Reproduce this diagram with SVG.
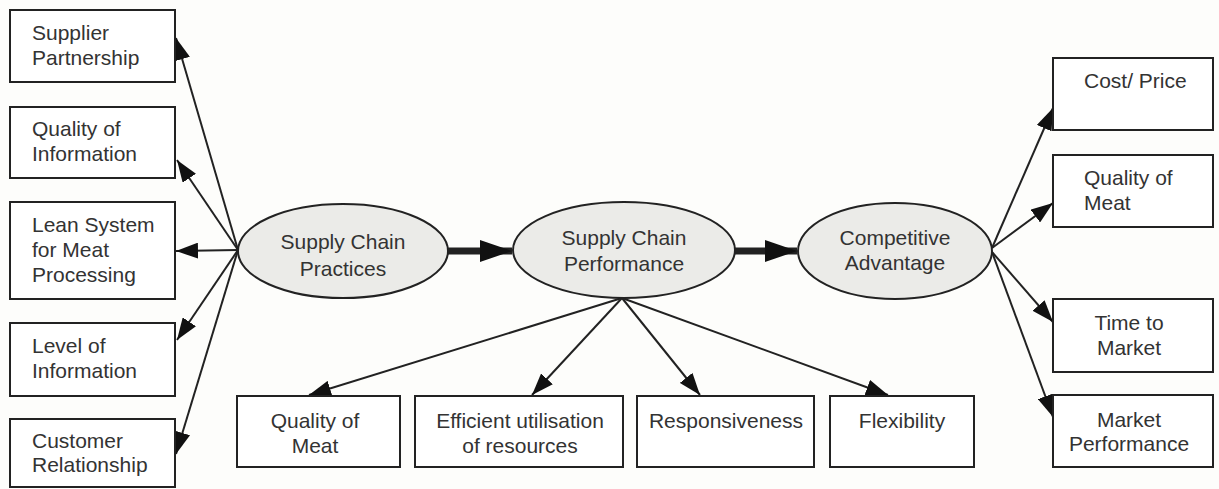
<svg xmlns="http://www.w3.org/2000/svg" width="1219" height="489" viewBox="0 0 1219 489">
<style>
.box{fill:#fff;stroke:#222;stroke-width:2}
.ell{fill:#ebebe8;stroke:#222;stroke-width:2}
text{font-family:"Liberation Sans",Arial,sans-serif;font-size:21px;fill:#333}
.c{text-anchor:middle}
.ln{stroke:#222;stroke-width:2;fill:none;marker-end:url(#ah)}
.thick{stroke:#222;stroke-width:7;fill:none;marker-end:url(#big)}
</style>
<defs>
<marker id="ah" markerUnits="userSpaceOnUse" markerWidth="22" markerHeight="16" refX="22" refY="8" orient="auto">
<path d="M0,0 L22,8 L0,16 z" fill="#111"/>
</marker>
<marker id="big" markerUnits="userSpaceOnUse" markerWidth="32" markerHeight="22" refX="32" refY="11" orient="auto">
<path d="M0,0 L32,11 L0,22 z" fill="#111"/>
</marker>
</defs>
<rect width="1219" height="489" fill="#fdfdfb"/>
<g id="connectors">
<line class="ln" x1="238" y1="250" x2="176" y2="38"/>
<line class="ln" x1="238" y1="250" x2="177" y2="160"/>
<line class="ln" x1="238" y1="250" x2="176" y2="251"/>
<line class="ln" x1="238" y1="250" x2="177" y2="340"/>
<line class="ln" x1="238" y1="250" x2="176" y2="454"/>
<line class="thick" x1="448" y1="251" x2="512" y2="251"/>
<line class="thick" x1="735" y1="251" x2="797" y2="251"/>
<line class="ln" x1="622" y1="298" x2="309" y2="395"/>
<line class="ln" x1="622" y1="298" x2="532" y2="395"/>
<line class="ln" x1="622" y1="298" x2="700" y2="395"/>
<line class="ln" x1="622" y1="298" x2="888" y2="395"/>
<line class="ln" x1="992" y1="248" x2="1053" y2="108"/>
<line class="ln" x1="992" y1="248" x2="1053" y2="203"/>
<line class="ln" x1="992" y1="252" x2="1053" y2="322"/>
<line class="ln" x1="992" y1="252" x2="1053" y2="417"/>
</g>
<g id="supplier-partnership"><rect class="box" x="10" y="10" width="165" height="72"/><text x="32" y="40">Supplier</text><text x="32" y="65">Partnership</text></g>
<g id="quality-information"><rect class="box" x="10" y="107" width="165" height="71"/><text x="32" y="136">Quality of</text><text x="32" y="161">Information</text></g>
<g id="lean-system"><rect class="box" x="10" y="202" width="165" height="97"/><text x="32" y="232">Lean System</text><text x="32" y="257">for Meat</text><text x="32" y="282">Processing</text></g>
<g id="level-information"><rect class="box" x="10" y="323" width="165" height="73"/><text x="32" y="353">Level of</text><text x="32" y="378">Information</text></g>
<g id="customer-relationship"><rect class="box" x="10" y="419" width="165" height="68"/><text x="32" y="448">Customer</text><text x="32" y="472">Relationship</text></g>
<g id="sc-practices"><ellipse class="ell" cx="343" cy="251" rx="105" ry="47"/><text class="c" x="343" y="249">Supply Chain</text><text class="c" x="343" y="276">Practices</text></g>
<g id="sc-performance"><ellipse class="ell" cx="624" cy="250" rx="111" ry="48"/><text class="c" x="624" y="245">Supply Chain</text><text class="c" x="624" y="271">Performance</text></g>
<g id="competitive-advantage"><ellipse class="ell" cx="895" cy="251" rx="97" ry="48"/><text class="c" x="895" y="245">Competitive</text><text class="c" x="895" y="270">Advantage</text></g>
<g id="cost-price"><rect class="box" x="1053" y="58" width="160" height="72"/><text x="1084" y="88">Cost/ Price</text></g>
<g id="quality-meat-r"><rect class="box" x="1053" y="155" width="160" height="72"/><text x="1084" y="185">Quality of</text><text x="1084" y="210">Meat</text></g>
<g id="time-market"><rect class="box" x="1053" y="299" width="160" height="73"/><text class="c" x="1129" y="330">Time to</text><text class="c" x="1129" y="355">Market</text></g>
<g id="market-performance"><rect class="box" x="1053" y="395" width="160" height="72"/><text class="c" x="1129" y="427">Market</text><text class="c" x="1129" y="451">Performance</text></g>
<g id="quality-meat-b"><rect class="box" x="237" y="396" width="163" height="71"/><text class="c" x="315" y="428">Quality of</text><text class="c" x="315" y="453">Meat</text></g>
<g id="efficient-utilisation"><rect class="box" x="415" y="396" width="208" height="71"/><text class="c" x="520" y="428">Efficient utilisation</text><text class="c" x="520" y="453">of resources</text></g>
<g id="responsiveness"><rect class="box" x="637" y="396" width="177" height="71"/><text class="c" x="726" y="428">Responsiveness</text></g>
<g id="flexibility"><rect class="box" x="830" y="396" width="144" height="71"/><text class="c" x="902" y="428">Flexibility</text></g>
</svg>
